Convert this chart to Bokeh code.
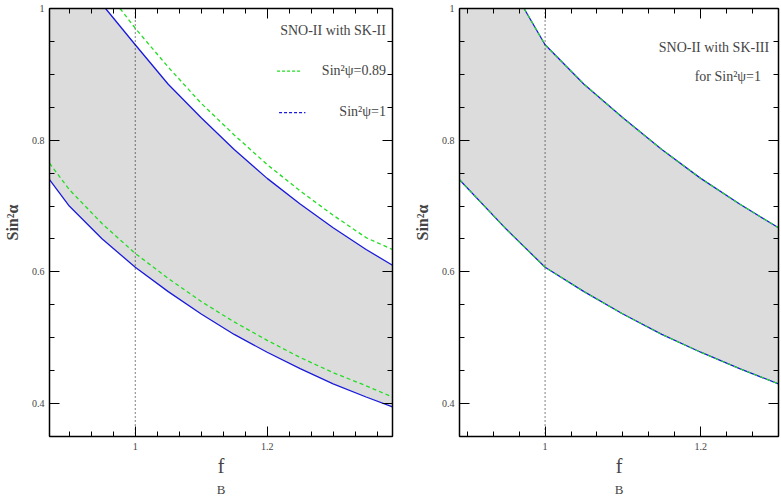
from bokeh.plotting import figure
from bokeh.layouts import row
from bokeh.models import LinearAxis, Label, Span, Range1d, FixedTicker, Title
from bokeh.embed import file_html
from bokeh.resources import INLINE

# left panel: SNO-II with SK-II
l_up_x = [0.955, 1.0, 1.05, 1.1, 1.15, 1.2, 1.25, 1.3, 1.35, 1.39]
l_up_blue = [1.0, 0.945, 0.885, 0.834, 0.786, 0.742, 0.703, 0.667, 0.634, 0.61]
l_upg_x = [0.977, 1.0, 1.05, 1.1, 1.15, 1.2, 1.25, 1.3, 1.35, 1.39]
l_up_green = [1.0, 0.97, 0.911, 0.856, 0.808, 0.763, 0.723, 0.686, 0.652, 0.634]
l_lo_x = [0.87, 0.9, 0.95, 1.0, 1.05, 1.1, 1.15, 1.2, 1.25, 1.3, 1.35, 1.39]
l_lo_blue = [0.74, 0.70, 0.65, 0.607, 0.570, 0.536, 0.505, 0.478, 0.453, 0.430, 0.41, 0.395]
l_lo_green = [0.765, 0.725, 0.673, 0.628, 0.590, 0.555, 0.524, 0.496, 0.470, 0.447, 0.427, 0.41]

# right panel: SNO-II with SK-III
r_lo_x = [0.89, 0.95, 1.0, 1.05, 1.1, 1.15, 1.2, 1.25, 1.3]
r_lo = [0.74, 0.665, 0.607, 0.57, 0.536, 0.505, 0.478, 0.453, 0.43]
r_up_x = [0.973, 1.0, 1.05, 1.1, 1.15, 1.2, 1.25, 1.3]
r_up = [1.0, 0.945, 0.885, 0.834, 0.786, 0.742, 0.703, 0.667]

y_ticks = [0.4, 0.6, 0.8, 1.0]
y_minor = [0.35, 0.45, 0.5, 0.55, 0.65, 0.7, 0.75, 0.85, 0.9, 0.95]
x_ticks = [1.0, 1.2]
x_minor = [0.8 + i / 30 for i in range(1, 20) if i not in (6, 12)]

SERIF = "Liberation Serif"
GREEN = "#22dd22"
BLUE = "#1a1adb"


def band_poly(lx, ly, ux, uy, x0):
    # gray band: under the upper curve (capped at 1) and above the lower curve
    xs = [x0] + ux + lx[::-1]
    ys = [1.0] + uy + ly[::-1]
    return xs, ys


def make_fig(xr, fw, left, right, b_offset):
    p = figure(frame_width=fw, frame_height=428, x_range=Range1d(*xr), y_range=Range1d(0.35, 1.0),
               output_backend="svg", toolbar_location=None,
               min_border_left=left, min_border_right=right, min_border_top=8, min_border_bottom=0)
    p.grid.visible = False
    p.outline_line_color = "black"
    p.background_fill_color = "white"
    p.add_layout(LinearAxis(major_label_overrides={1.0: "", 1.2: ""}), "above")
    p.add_layout(LinearAxis(major_label_overrides={0.4: "", 0.6: "", 0.8: "", 1.0: ""}), "right")
    for ax in p.above + p.below:
        ax.ticker = FixedTicker(ticks=x_ticks, minor_ticks=x_minor)
    for ax in p.left + p.right:
        ax.ticker = FixedTicker(ticks=y_ticks, minor_ticks=y_minor)
    for ax in p.axis:
        ax.level = "overlay"
        ax.major_tick_in = 10
        ax.major_tick_out = 0
        ax.minor_tick_in = 5
        ax.minor_tick_out = 0
        ax.major_tick_line_color = "black"
        ax.minor_tick_line_color = "black"
        ax.axis_line_width = 1.5
        ax.major_label_text_font = SERIF
        ax.major_label_text_font_size = "10px"
    p.above[0].major_label_standoff = 0
    p.right[0].major_label_standoff = 0
    xb = p.below[0]
    yl = p.left[0]
    xb.major_label_overrides = {1.0: "1", 1.2: "1.2"}
    xb.major_label_standoff = 6
    yl.major_label_overrides = {1.0: "1"}
    yl.axis_label = "Sin\u00b2\u03b1"
    yl.axis_label_text_font = SERIF
    yl.axis_label_text_font_style = "bold"
    yl.axis_label_text_font_size = "16px"
    yl.axis_label_standoff = 8
    xb.axis_label = "f"
    xb.axis_label_text_font = SERIF
    xb.axis_label_text_font_style = "normal"
    xb.axis_label_text_font_size = "20px"
    xb.axis_label_standoff = 2
    p.add_layout(Title(text="B", align="center", offset=b_offset, text_font=SERIF,
                       text_font_size="13px", text_font_style="normal", standoff=0), "below")
    p.add_layout(Span(location=1.0, dimension="height", line_color="black",
                      line_dash="1 3", line_width=1))
    return p


# ---- left
p1 = make_fig((0.87, 1.39), 343, 41, 18, 10)
xs, ys = band_poly(l_lo_x, l_lo_blue, l_up_x, l_up_blue, 0.87)
p1.patch(xs, ys, fill_color="#dcdcdc", line_color=None)
p1.line(l_up_x, l_up_blue, line_color=BLUE, line_width=1.3)
p1.line(l_lo_x, l_lo_blue, line_color=BLUE, line_width=1.3)
p1.line(l_upg_x, l_up_green, line_color=GREEN, line_width=1.3, line_dash="4 3")
p1.line(l_lo_x, l_lo_green, line_color=GREEN, line_width=1.3, line_dash="4 3")
p1.add_layout(Label(x=1.38, y=0.955, text="SNO-II with SK-II", text_align="right",
                    text_font=SERIF, text_font_size="14px"))
p1.line([1.215, 1.25], [0.905, 0.905], line_color=GREEN, line_width=1.3, line_dash="3 2")
p1.line([1.218, 1.258], [0.842, 0.842], line_color=BLUE, line_width=1.3, line_dash="3 2")
p1.add_layout(Label(x=1.38, y=0.895, text="Sin\u00b2\u03c8=0.89", text_align="right",
                    text_font=SERIF, text_font_size="14px"))
p1.add_layout(Label(x=1.38, y=0.832, text="Sin\u00b2\u03c8=1", text_align="right",
                    text_font=SERIF, text_font_size="14px"))

# ---- right
p2 = make_fig((0.89, 1.30), 319, 49, 3, 10)
xs, ys = band_poly(r_lo_x, r_lo, r_up_x, r_up, 0.89)
p2.patch(xs, ys, fill_color="#dcdcdc", line_color=None)
p2.line(r_up_x, r_up, line_color=BLUE, line_width=1.3)
p2.line(r_lo_x, r_lo, line_color=BLUE, line_width=1.3)
p2.line(r_up_x, r_up, line_color=GREEN, line_width=1.1, line_dash="4 3")
p2.line(r_lo_x, r_lo, line_color=GREEN, line_width=1.1, line_dash="4 3")
p2.add_layout(Label(x=1.288, y=0.93, text="SNO-II with SK-III", text_align="right",
                    text_font=SERIF, text_font_size="14px"))
p2.add_layout(Label(x=1.282, y=0.885, text="for  Sin\u00b2\u03c8=1", text_align="right",
                    text_font=SERIF, text_font_size="14px"))

layout = row(p1, p2, spacing=0)
open("out.html", "w").write(file_html(layout, INLINE))
